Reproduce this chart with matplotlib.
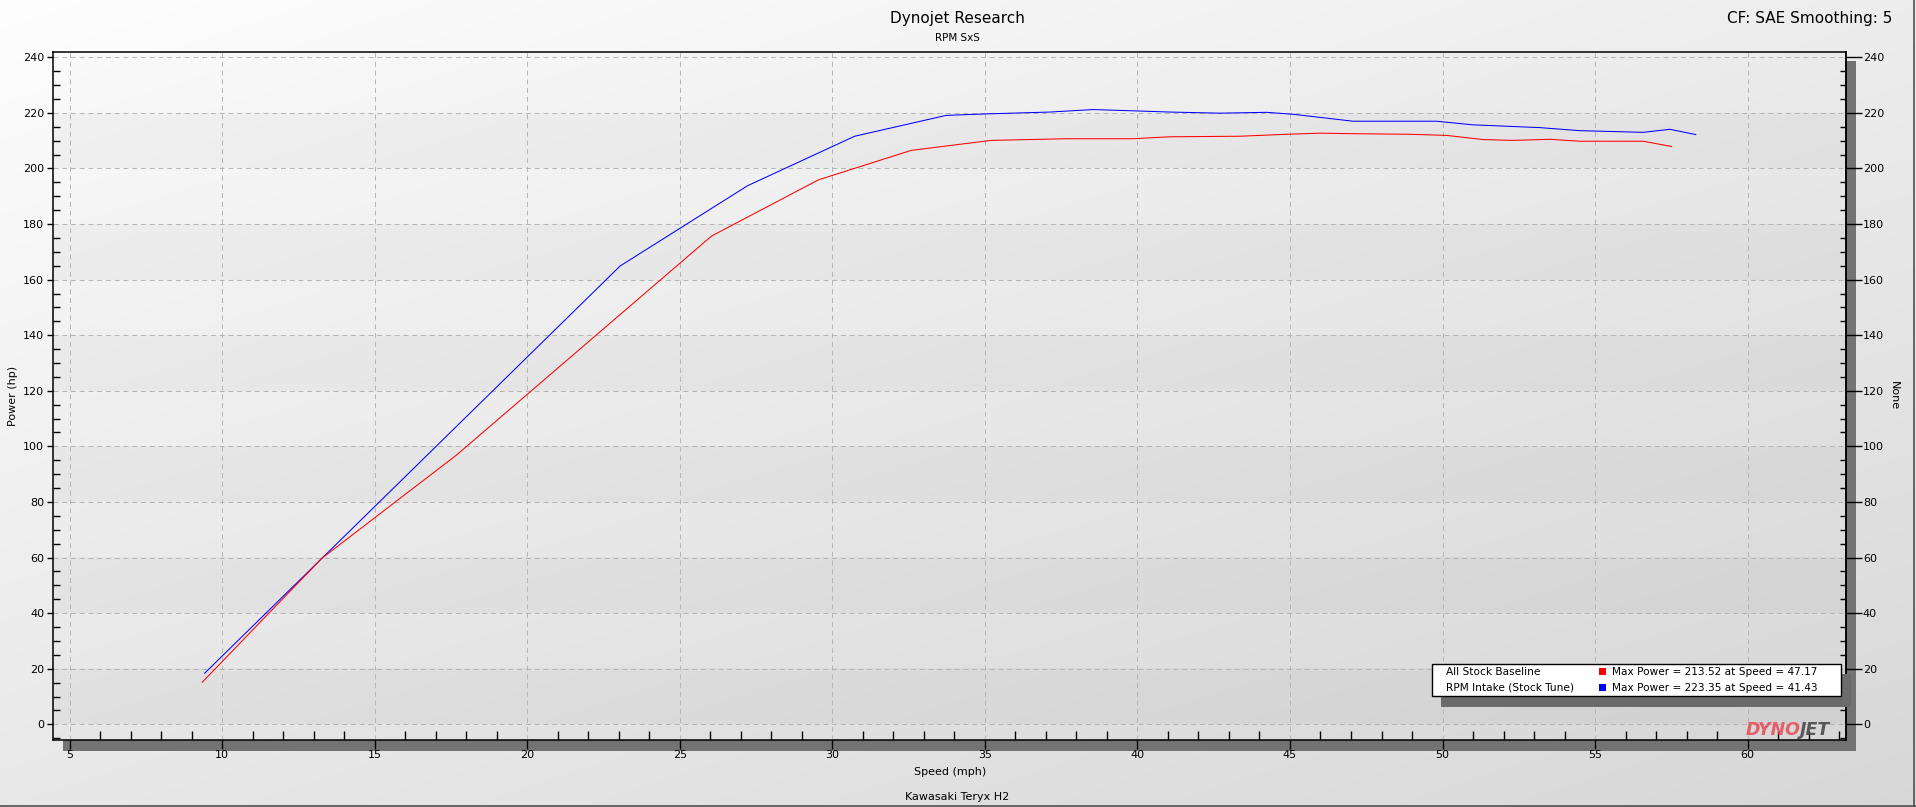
import numpy as np
import matplotlib
matplotlib.use("Agg")
import matplotlib.pyplot as plt
from matplotlib.patches import Rectangle
from matplotlib.ticker import MultipleLocator

# ---------------- data ----------------
red_mph = [9.34, 13.26, 17.68, 26.04, 29.54, 32.58, 35.2, 37.67, 39.86, 41.06, 43.36,
           44.89, 45.98, 47.18, 48.93, 50.13, 51.33, 52.31, 53.52, 54.5, 56.58, 57.51]
red_hp = [15.1, 59.7, 96.9, 175.7, 195.9, 206.5, 210.1, 210.7, 210.7, 211.4, 211.6,
          212.3, 212.7, 212.5, 212.3, 211.9, 210.4, 210.1, 210.5, 209.8, 209.8, 207.9]

blue_mph = [9.42, 23.04, 27.22, 30.73, 33.73, 34.94, 37.13, 38.55, 39.97, 41.06, 42.7,
            44.23, 45.1, 47.07, 49.8, 51.0, 53.19, 54.5, 56.58, 57.45, 58.3]
blue_hp = [18.35, 164.9, 193.8, 211.6, 219.1, 219.6, 220.3, 221.2, 220.7, 220.3, 219.9,
           220.2, 219.5, 217.0, 217.0, 215.7, 214.7, 213.6, 213.0, 214.1, 212.2]

run_names = ["All Stock Baseline", "RPM Intake (Stock Tune)"]
run_colors = ["#ff0000", "#0000ff"]
run_max_power = [213.52, 223.35]
run_max_speed = [47.17, 41.43]

x_ticks = list(range(5, 61, 5))
y_ticks = list(range(0, 241, 20))

title = "Dynojet Research"
subtitle = "RPM SxS"
corner_text = "CF: SAE Smoothing: 5"
x_label = "Speed (mph)"
y_label = "Power (hp)"
y2_label = "None"
footer = "Kawasaki Teryx H2"

# ---------------- figure ----------------
W, H = 1916, 807
DPI = 100
plt.rcParams['font.family'] = ['DejaVu Sans']
plt.rcParams['xtick.top'] = False
plt.rcParams['xtick.minor.top'] = False
plt.rcParams['ytick.right'] = False
fig = plt.figure(figsize=(W / DPI, H / DPI), dpi=DPI)

# background gradient + shadows (pixel coordinates)
bg = fig.add_axes([0, 0, 1, 1], zorder=-10)
uu = np.linspace(0, 1, 480)
vv = np.linspace(0, 1, 200)
U, V = np.meshgrid(uu, vv)
G = 0.995 - 0.065 * U - 0.085 * V
bg.imshow(np.dstack([G, G, G]), extent=(0, W, H, 0), aspect='auto', interpolation='bilinear')
bg.add_patch(Rectangle((1845.7, 61), 10.3, 689.7, facecolor='#737373', edgecolor='none'))
bg.add_patch(Rectangle((63, 740.3), 1793, 10.4, facecolor='#737373', edgecolor='none'))
bg.set_xlim(0, W)
bg.set_ylim(H, 0)
bg.axis('off')

# main axes
L, R, T, B = 53.3, 1845.5, 52.3, 740.3
rect = [L / W, 1 - B / H, (R - L) / W, (B - T) / H]
ax = fig.add_axes(rect)
XMIN, XMAX, YMIN, YMAX = 4.46, 63.21, -5.76, 241.8

# banded gradient plot background
ny, nx = 1400, 300
ys = np.linspace(YMAX, YMIN, ny)
xs = np.linspace(0, 1, nx)
Xg, Yg = np.meshgrid(xs, ys)
Vg = (YMAX - Yg) / (YMAX - YMIN)
base = 0.98 - 0.06 * Xg - 0.075 * Vg
dark = (np.floor(Yg / 20) % 2 == 0) & (Yg >= 0) & (Yg < 220)
base = base - 0.028 * dark
ax.imshow(np.dstack([base, base, base]), extent=(XMIN, XMAX, YMIN, YMAX),
          aspect='auto', interpolation='nearest', origin='upper', zorder=0)
ax.set_xlim(XMIN, XMAX)
ax.set_ylim(YMIN, YMAX)

ax.set_axisbelow(True)
ax.grid(True, which='major', color='#b4b4b4', linestyle=(0, (5, 4)), linewidth=0.7)

ax.plot(blue_mph, blue_hp, color=run_colors[1], lw=0.75, zorder=3)
ax.plot(red_mph, red_hp, color=run_colors[0], lw=0.75, zorder=3)

ax.set_xticks(x_ticks)
ax.xaxis.set_minor_locator(MultipleLocator(1))
ax.set_yticks(y_ticks)
ax.yaxis.set_minor_locator(MultipleLocator(5))
ax.xaxis.set_ticks_position('bottom')
ax.yaxis.set_ticks_position('left')
ax.tick_params(axis='x', which='major', direction='out', length=6.5, width=1, pad=0.7,
               labelsize=8, colors='black')
ax.tick_params(axis='x', which='minor', direction='in', length=6.2, width=1)
ax.tick_params(axis='y', which='major', direction='out', length=4.3, width=1, pad=2.2,
               labelsize=8)
ax.tick_params(axis='y', which='minor', direction='in', length=4.8, width=1)
for s in ax.spines.values():
    s.set_linewidth(1.1)
    s.set_color('black')

# right-hand axis as a separate overlay axes
ax2 = fig.add_axes(rect, sharey=ax)
ax2.patch.set_visible(False)
ax2.xaxis.set_visible(False)
for k in ['left', 'top', 'bottom']:
    ax2.spines[k].set_visible(False)
ax2.spines['right'].set_linewidth(1.1)
ax2.yaxis.set_ticks_position('right')
ax2.yaxis.set_label_position('right')
ax2.tick_params(axis='y', which='major', direction='out', length=11.5, width=1, pad=1,
                labelsize=8)
ax2.tick_params(axis='y', which='minor', direction='in', length=4.5, width=1)

# overlay (pixel coordinates)
ov = fig.add_axes([0, 0, 1, 1], zorder=20)
ov.set_xlim(0, W)
ov.set_ylim(H, 0)
ov.axis('off')
ov.patch.set_alpha(0)

ov.text(957, 18, title, ha='center', va='center', fontsize=11)
ov.text(957, 38, subtitle, ha='center', va='center', fontsize=7.5)
ov.text(1892.5, 18.3, corner_text, ha='right', va='center', fontsize=11)
ov.text(13, 396, y_label, ha='center', va='center', rotation=90, fontsize=8)
ov.text(1894, 396, y2_label, ha='center', va='center', rotation=270, fontsize=8)
ov.text(949.7, 771.7, x_label, ha='center', va='center', fontsize=8)
ov.text(957, 796.7, footer, ha='center', va='center', fontsize=8)

# legend
ov.add_patch(Rectangle((1441.5, 674), 409.5, 32.7, facecolor='#6b6b6b', edgecolor='none'))
ov.add_patch(Rectangle((1431.6, 664.3), 409.1, 32, facecolor='white', edgecolor='black', lw=1))
row_y = [671.7, 687.7]
for i in range(2):
    ov.text(1446, row_y[i], run_names[i], ha='left', va='center', fontsize=7.6)
    ov.add_patch(Rectangle((1598.6, row_y[i] - 3.5), 7, 7, facecolor=run_colors[i], edgecolor='none'))
    ov.text(1612.4, row_y[i],
            f"Max Power = {run_max_power[i]:.2f} at Speed = {run_max_speed[i]:.2f}",
            ha='left', va='center', fontsize=7.6)

# logo
ov.text(1801, 730, "DYNO", ha='right', va='center', fontsize=12.5, fontweight='bold',
        style='italic', color='#e8505b', alpha=0.9)
ov.text(1800, 730, "JET", ha='left', va='center', fontsize=12.5, fontweight='bold',
        style='italic', color='#4a4a4a', alpha=0.9)

# window border lines
ov.plot([0, W], [805.5, 805.5], color='#505050', lw=1.2)
ov.plot([1914.5, 1914.5], [0, H], color='#505050', lw=1.2)

fig.savefig("out.png", dpi=DPI)
